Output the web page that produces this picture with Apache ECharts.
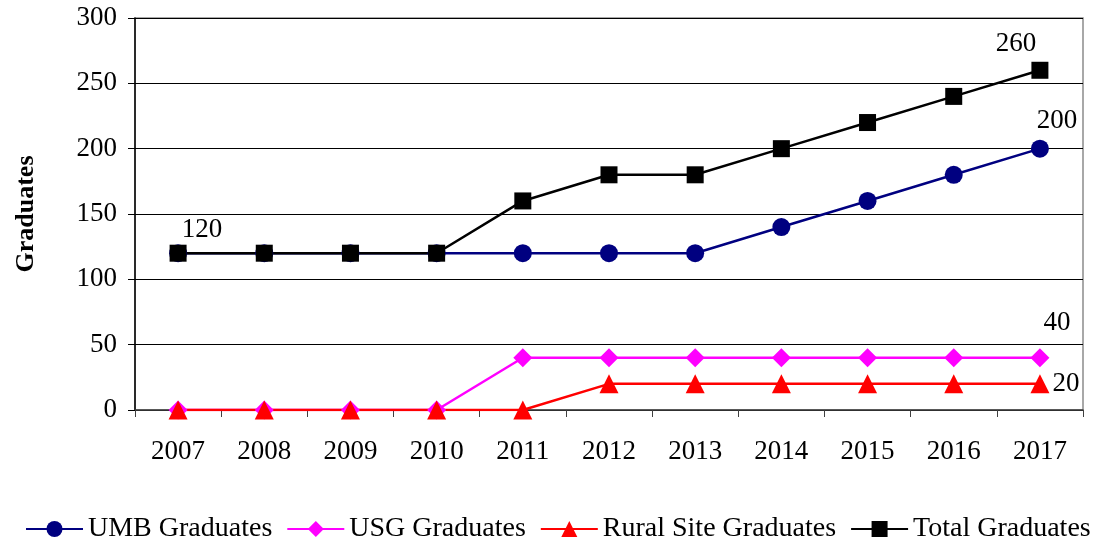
<!DOCTYPE html>
<html>
<head>
<meta charset="utf-8">
<script src="https://cdn.jsdelivr.net/npm/echarts@6/dist/echarts.min.js"></script>
<style>
  html, body { margin: 0; padding: 0; background: #fff; }
  #chart { width: 1096px; height: 542px; }
</style>
</head>
<body>
<div id="chart"></div>
<script>
const years = ["2007", "2008", "2009", "2010", "2011", "2012", "2013", "2014", "2015", "2016", "2017"];
const umb = [120, 120, 120, 120, 120, 120, 120, 140, 160, 180, 200];
const usg = [0, 0, 0, 0, 40, 40, 40, 40, 40, 40, 40];
const rural = [0, 0, 0, 0, 0, 20, 20, 20, 20, 20, 20];
const total = [120, 120, 120, 120, 160, 180, 180, 200, 220, 240, 260];

const FONT = "Liberation Serif";
const FS = 27;

// only a few points carry a value label, each nudged like the original
function labelled(values, marks) {
  return values.map((v, i) => {
    const off = marks[i];
    if (!off) return v;
    return {
      value: v,
      label: {
        show: true, position: "inside", offset: off,
        color: "#000", fontFamily: FONT, fontSize: FS
      }
    };
  });
}

const chart = echarts.init(document.getElementById("chart"));

const lineSeries = (name, data, color, symbol, size) => ({
  name: name,
  type: "line",
  data: data,
  symbol: symbol,
  symbolSize: size,
  lineStyle: { color: color, width: 2.5 },
  itemStyle: { color: color },
  animation: false
});

chart.setOption({
  textStyle: { fontFamily: FONT },
  grid: { left: 135, right: 13, top: 18, bottom: 132, show: true, borderColor: "#8c8c8c", borderWidth: 1.5 },
  legend: {
    top: 510,
    left: 20,
    itemWidth: 57,
    itemHeight: 20,
    itemGap: 14,
    textStyle: { fontFamily: FONT, fontSize: 28, color: "#000" },
    data: ["UMB Graduates", "USG Graduates", "Rural Site Graduates", "Total Graduates"]
  },
  xAxis: {
    type: "category",
    data: years,
    boundaryGap: true,
    axisLine: { lineStyle: { color: "#404040", width: 1.5 } },
    axisTick: { show: true, length: 7, lineStyle: { color: "#404040" } },
    axisLabel: { color: "#000", fontFamily: FONT, fontSize: FS, margin: 28 },
    splitLine: { show: false }
  },
  yAxis: {
    type: "value",
    min: 0,
    max: 300,
    interval: 50,
    name: "Graduates",
    nameLocation: "middle",
    nameGap: 96,
    nameTextStyle: { fontFamily: FONT, fontSize: 26, fontWeight: "bold", color: "#000" },
    axisLine: { show: true, lineStyle: { color: "#000", width: 1.5 } },
    axisTick: { show: true, length: 7, lineStyle: { color: "#000" } },
    axisLabel: { color: "#000", fontFamily: FONT, fontSize: FS, margin: 18 },
    splitLine: { show: true, lineStyle: { color: "#000", width: 1 } }
  },
  series: [
    lineSeries("UMB Graduates", labelled(umb, { 10: [17, -28] }), "#000080", "circle", 18),
    lineSeries("USG Graduates", labelled(usg, { 10: [17, -35] }), "#ff00ff", "diamond", 19),
    lineSeries("Rural Site Graduates", labelled(rural, { 10: [26, 0] }), "#ff0000", "triangle", 19),
    lineSeries("Total Graduates", labelled(total, { 0: [24, -23], 10: [-24, -26] }), "#000000", "rect", 17)
  ]
});
</script>
</body>
</html>
